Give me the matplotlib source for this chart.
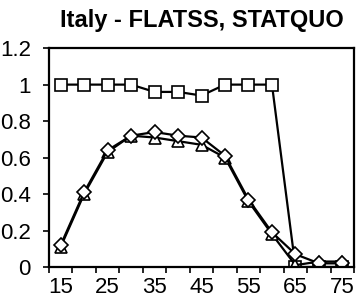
import numpy as np
import matplotlib
matplotlib.use("Agg")
import matplotlib.pyplot as plt

plt.rcParams["font.family"] = ["Liberation Sans", "DejaVu Sans"]

ages = [15, 20, 25, 30, 35, 40, 45, 50, 55, 60, 65, 70, 75]
squares = [1.0, 1.0, 1.0, 1.0, 0.96, 0.96, 0.94, 1.0, 1.0, 1.0, 0.0, 0.0, 0.0]
triangles = [0.11, 0.40, 0.63, 0.72, 0.71, 0.69, 0.67, 0.60, 0.36, 0.18, 0.01, 0.03, 0.03]
diamonds = [0.12, 0.41, 0.64, 0.72, 0.74, 0.72, 0.71, 0.61, 0.37, 0.19, 0.07, 0.02, 0.02]
yticks = [0, 0.2, 0.4, 0.6, 0.8, 1, 1.2]
ytick_labels = ["0", "0.2", "0.4", "0.6", "0.8", "1", "1.2"]

fig = plt.figure(figsize=(3.57, 2.99), dpi=100)
ax = fig.add_axes([0.137, 0.107, 0.855, 0.732])

x = np.arange(len(ages))
style = dict(color="black", lw=1.6, mfc="white", mec="black", mew=1.2)
ax.plot(x, squares, marker="s", ms=8, **style)
ax.plot(x, triangles, marker="^", ms=8, **style)
ax.plot(x, diamonds, marker="D", ms=7, **style)

ax.set_xlim(-0.5, len(ages) - 0.5)
ax.set_ylim(0, 1.2)
ax.set_yticks(yticks)
ax.set_yticklabels(ytick_labels)
ax.set_xticks(x[::2])
ax.set_xticklabels([str(a) for a in ages[::2]])
ax.set_xticks(np.arange(len(ages) + 1) - 0.5, minor=True)
ax.tick_params(axis="x", which="major", length=0, labelsize=16, pad=7)
ax.tick_params(axis="x", which="minor", length=4, width=1.2)
ax.tick_params(axis="y", length=4, width=1.2, labelsize=16, pad=9)
for s in ax.spines.values():
    s.set_linewidth(1.6)

ax.set_title("Italy - FLATSS, STATQUO", fontsize=17, fontweight="bold", pad=15)

fig.savefig("out.png", dpi=100)
